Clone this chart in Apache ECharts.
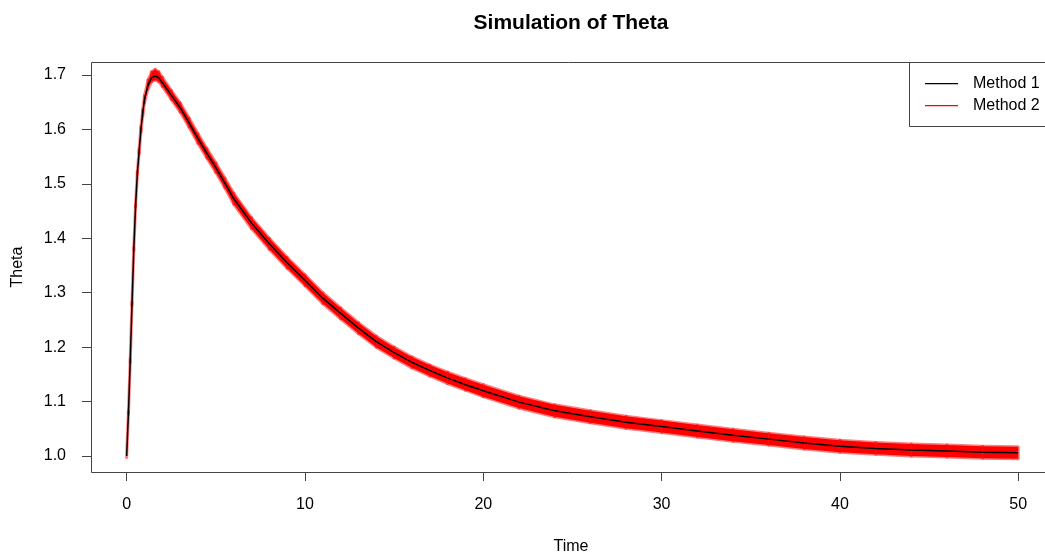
<!DOCTYPE html>
<html>
<head>
<meta charset="utf-8">
<script src="https://cdn.jsdelivr.net/npm/echarts@6/dist/echarts.min.js"></script>
<style>
html,body{margin:0;padding:0;background:#fff;}
#chart{width:1045px;height:557px;}
</style>
</head>
<body>
<div id="chart"></div>
<script>
// Time points
const timeValues = [0,0.1,0.2,0.3,0.4,0.5,0.6,0.7,0.8,0.9,1.0,1.2,1.4,1.6,1.8,2.0,2.5,3.0,3.5,4.0,4.5,5.0,5.5,6.0,7,8,9,10,11,12,13,14,15,16,17,18,19,20,22,24,26,28,30,32,34,36,38,40,42,44,46,48,50];
// Method 1 (black line)
const method1 = [1.000,1.080,1.175,1.280,1.380,1.460,1.520,1.560,1.600,1.630,1.655,1.682,1.695,1.698,1.695,1.686,1.663,1.640,1.612,1.583,1.556,1.530,1.502,1.473,1.428,1.390,1.355,1.323,1.290,1.262,1.235,1.210,1.190,1.172,1.157,1.143,1.131,1.120,1.099,1.083,1.072,1.062,1.054,1.046,1.038,1.031,1.024,1.018,1.014,1.011,1.009,1.007,1.006];
// Method 2 (red, noisy) - upper and lower edges of the red band
const method2Upper = [1.003,1.083,1.178,1.283,1.383,1.463,1.523,1.564,1.605,1.636,1.662,1.691,1.706,1.710,1.706,1.696,1.672,1.649,1.621,1.592,1.565,1.539,1.511,1.483,1.438,1.400,1.365,1.333,1.300,1.272,1.245,1.220,1.200,1.182,1.167,1.154,1.142,1.131,1.110,1.094,1.083,1.073,1.065,1.057,1.049,1.042,1.035,1.029,1.025,1.022,1.020,1.018,1.017];
const method2Lower = [0.997,1.077,1.172,1.277,1.377,1.457,1.517,1.556,1.595,1.625,1.649,1.675,1.688,1.691,1.688,1.679,1.655,1.632,1.604,1.574,1.547,1.521,1.493,1.463,1.418,1.380,1.345,1.313,1.280,1.252,1.225,1.200,1.180,1.162,1.147,1.133,1.121,1.109,1.088,1.072,1.061,1.051,1.043,1.035,1.027,1.020,1.013,1.007,1.003,1.000,0.998,0.996,0.995];
// Tick labels
const xTicks = [0,10,20,30,40,50];
const yTicks = [1.0,1.1,1.2,1.3,1.4,1.5,1.6,1.7];

const FONT = '"Liberation Sans", Arial, Helvetica, sans-serif';
const AXIS_COLOR = '#444';

const chart = echarts.init(document.getElementById('chart'), null, {renderer:'canvas'});

// band segments: [t0, lo0, hi0, t1, lo1, hi1]
const bandData = [];
for (let i = 0; i < timeValues.length - 1; i++) {
  bandData.push([timeValues[i], method2Lower[i], method2Upper[i], timeValues[i+1], method2Lower[i+1], method2Upper[i+1]]);
}
const m1Data = timeValues.map((t,i)=>[t, method1[i]]);

chart.setOption({
  animation:false,
  backgroundColor:'#fff',
  title:{
    text:'Simulation of Theta',
    left:566, top:8, textAlign:'center',
    textStyle:{fontFamily:FONT, fontWeight:'bold', fontSize:21, color:'#000'}
  },
  grid:{left:91, top:62, width:954, height:410, show:false},
  xAxis:{
    type:'value', min:-2, max:51.5,
    axisLine:{show:false, onZero:false},
    splitLine:{show:false},
    axisTick:{show:true, length:9, lineStyle:{color:AXIS_COLOR}, customValues:xTicks},
    axisLabel:{customValues:xTicks, margin:25, fontFamily:FONT, fontSize:16, color:'#000', showMaxLabel:true}
  },
  yAxis:{
    type:'value', min:0.9706, max:1.7239,
    axisLine:{show:false, onZero:false},
    splitLine:{show:false},
    axisTick:{show:true, length:9, lineStyle:{color:AXIS_COLOR}, customValues:yTicks},
    axisLabel:{customValues:yTicks, margin:25, fontFamily:FONT, fontSize:16, color:'#000', formatter:(v)=>v.toFixed(1)}
  },
  series:[
    {name:'Method 2', type:'custom', data:bandData, silent:true, clip:true,
     encode:{x:[0,3], y:[1,2,4,5]},
     renderItem:function(params, api){
       const a = api.coord([api.value(0), api.value(1)]);
       const b = api.coord([api.value(0), api.value(2)]);
       const c = api.coord([api.value(3), api.value(5)]);
       const d = api.coord([api.value(3), api.value(4)]);
       return {type:'polygon', shape:{points:[a,b,c,d]}, style:{fill:'#ff0000', stroke:'rgba(255,0,0,0.5)', lineWidth:3, lineJoin:'round'}};
     }},
    {name:'Method 1', type:'line', data:m1Data, symbol:'none', silent:true,
     lineStyle:{color:'#000', width:1.5}, z:5}
  ],
  graphic:[
    {type:'polyline', shape:{points:[[1050,62.5],[91.5,62.5],[91.5,472.5],[1050,472.5]]}, style:{fill:null, stroke:AXIS_COLOR, lineWidth:1}, z:8},
    {type:'text', x:571, y:547, style:{text:'Time', fontFamily:FONT, fontSize:16, fill:'#000', textAlign:'center', textVerticalAlign:'middle'}},
    {type:'text', rotation:Math.PI/2, x:18, y:267, style:{text:'Theta', fontFamily:FONT, fontSize:16, fill:'#000', textAlign:'center', textVerticalAlign:'middle'}},
    {type:'rect', shape:{x:909.5, y:62.5, width:160, height:64}, style:{fill:'#fff', stroke:AXIS_COLOR, lineWidth:1}, z:10},
    {type:'rect', shape:{x:925, y:83, width:33, height:1.3}, style:{fill:'#000'}, z:11},
    {type:'rect', shape:{x:925, y:105, width:33, height:1.3}, style:{fill:'#ff0000'}, z:11},
    {type:'text', x:973, y:84, style:{text:'Method 1', fontFamily:FONT, fontSize:16, fill:'#000', textVerticalAlign:'middle'}, z:11},
    {type:'text', x:973, y:106, style:{text:'Method 2', fontFamily:FONT, fontSize:16, fill:'#000', textVerticalAlign:'middle'}, z:11}
  ]
});
</script>
</body>
</html>
